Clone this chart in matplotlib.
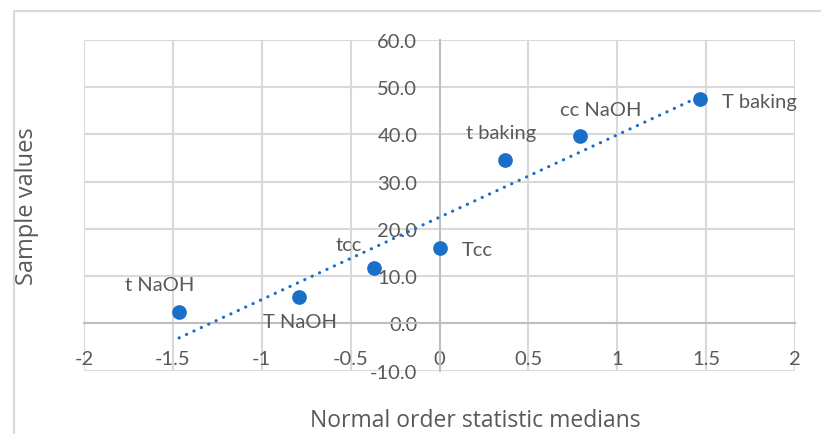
import numpy as np
import matplotlib.pyplot as plt
from matplotlib.patches import Rectangle

# Normal order statistic medians for n = 7 and the matching sample values
medians = [-1.465, -0.792, -0.366, 0.0, 0.366, 0.792, 1.465]
samples = [2.4, 5.6, 11.7, 15.9, 34.5, 39.7, 47.4]
names = ['t NaOH', 'T NaOH', 'tcc', 'Tcc', 't baking', 'cc NaOH', 'T baking']

x_ticks = [-2, -1.5, -1, -0.5, 0, 0.5, 1, 1.5, 2]
y_ticks = [-10, 0, 10, 20, 30, 40, 50, 60]

BLUE = '#1a70c8'
GREY_TXT = '#595959'
GRID = '#d9d9d9'

W, H = 821, 435
fig = plt.figure(figsize=(W / 100, H / 100), dpi=100)
fig.patches.append(Rectangle((14 / W, -0.05), 1.0, (H - 12) / H + 0.05,
                             transform=fig.transFigure, fill=False,
                             edgecolor=GRID, linewidth=1.5))

ax = fig.add_axes([84 / W, (H - 371.7) / H, (795 - 84) / W, (371.7 - 40.7) / H])
ax.set_xlim(-2, 2)
ax.set_ylim(-10, 60)

# axes cross at the origin
for side in ('top', 'right'):
    ax.spines[side].set_visible(False)
ax.spines['left'].set_position(('data', 0))
ax.spines['bottom'].set_position(('data', 0))
for side in ('left', 'bottom'):
    ax.spines[side].set_color('#bfbfbf')
    ax.spines[side].set_linewidth(1.5)
    ax.spines[side].set_zorder(1)

ax.set_xticks(x_ticks)
ax.set_xticklabels([f'{v:g}' for v in x_ticks])
ax.set_yticks(y_ticks)
ax.set_yticklabels([f'{v:.1f}' for v in y_ticks])
ax.tick_params(axis='x', length=0, pad=19, labelsize=14.5, labelcolor=GREY_TXT)
ax.tick_params(axis='y', length=0, pad=16, labelsize=14.5, labelcolor=GREY_TXT)
for lab in ax.get_xticklabels() + ax.get_yticklabels():
    lab.set_fontfamily('Lato')
ax.grid(True, color=GRID, linewidth=1.5, zorder=0)
ax.set_axisbelow(True)

# linear trendline over the data range
k, b = np.polyfit(medians, samples, 1)
tx = np.array([min(medians), max(medians)])
ax.plot(tx, k * tx + b, color=BLUE, linewidth=2.3, linestyle=(0, (0.05, 2.5)),
        dash_capstyle='round', zorder=3)

ax.scatter(medians, samples, s=112, color=BLUE, zorder=4, linewidths=0)

offsets = {
    't NaOH': (-19, 28, 'center'),
    'T NaOH': (1, -25, 'center'),
    'tcc': (-26, 24, 'center'),
    'Tcc': (22, -1, 'left'),
    't baking': (-3, 28, 'center'),
    'cc NaOH': (20, 26, 'center'),
    'T baking': (22, -2, 'left'),
}
for x, y, name in zip(medians, samples, names):
    dx, dy, ha = offsets[name]
    ax.annotate(name, (x, y), xytext=(dx, dy), textcoords='offset pixels',
                ha=ha, va='center', fontsize=14.5, color=GREY_TXT,
                family='Lato', zorder=5)

fig.text(475 / W, 1 - 421 / H, 'Normal order statistic medians', ha='center',
         va='center', fontsize=16.5, color=GREY_TXT, family='Open Sans')
fig.text(27 / W, 1 - 206 / H, 'Sample values', rotation=90, ha='center',
         va='center', fontsize=17, color=GREY_TXT, family='Open Sans')

fig.savefig('out.png', dpi=100)
